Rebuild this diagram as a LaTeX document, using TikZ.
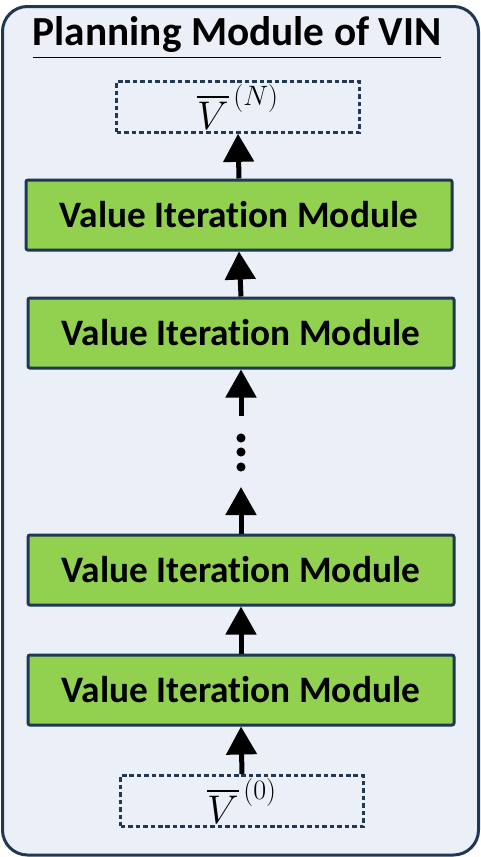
\documentclass[tikz,border=0pt]{standalone}
\usepackage{fix-cm}
\usepackage{amsmath}
\usepackage{fontspec}
\setmainfont{Carlito}[Ligatures=NoCommon]
\usetikzlibrary{positioning, arrows.meta}
\definecolor{navy}{RGB}{32,56,84}
\definecolor{panelfill}{RGB}{234,239,248}
\definecolor{modgreen}{RGB}{146,208,80}

\begin{document}
\begin{tikzpicture}[x=0.75pt,y=0.75pt,yscale=-1,xscale=1,
                    vimodule/.style={draw=navy, fill=modgreen, line width=2.25pt, rounded corners=1.5pt,
                                     minimum width=319.5pt, minimum height=52.5pt,
                                     font=\fontsize{28}{32}\selectfont\bfseries},
                    vbox/.style={draw=navy, line width=2.25pt, dash pattern={on 3.4pt off 2.2pt},
                                 minimum width=182pt, minimum height=38pt, inner sep=0pt,
                                 font=\fontsize{30}{34}\selectfont},
                    flowarrow/.style={-{Triangle[width=22.5pt,length=21pt]}, line width=3.75pt}]
\useasboundingbox (0,0) rectangle (481,857);

%Shape: Rounded Rect (panel)
\draw [draw=navy, fill=panelfill, line width=2.25pt, rounded corners=18.75pt] (2.5,6.5) rectangle (478.5,855) ;

% Text Node
\node (title) at (237,38) {\fontsize{31}{36}\selectfont\bfseries\underline{Planning Module of VIN}};

% Value boxes
\node [vbox] (vN) at (238,107) {$\overline{V}^{\,(N)}$};
\node [vbox] (v0) at (242,801) {$\overline{V}^{\,(0)}$};

% Value Iteration Modules
\node [vimodule] (vi4) at (239,215) {Value Iteration Module};
\node [vimodule] (vi3) at (241,333) {Value Iteration Module};
\node [vimodule] (vi2) at (241,570) {Value Iteration Module};
\node [vimodule] (vi1) at (241,690) {Value Iteration Module};

% gap with dots
\coordinate (dotsTop) at (241,416);
\coordinate (dotsBot) at (241,487);
\foreach \y in {438,452,467} {
  \fill (241,\y) circle (3.4pt);
}

% Arrows
\draw [flowarrow] (v0.north) -- (vi1.south);
\draw [flowarrow] (vi1.north) -- (vi2.south);
\draw [flowarrow] (vi2.north) -- (dotsBot);
\draw [flowarrow] (dotsTop) -- (vi3.south);
\draw [flowarrow] (vi3.north) -- (vi4.south);
\draw [flowarrow] (vi4.north) -- (vN.south);

\end{tikzpicture}
\end{document}
